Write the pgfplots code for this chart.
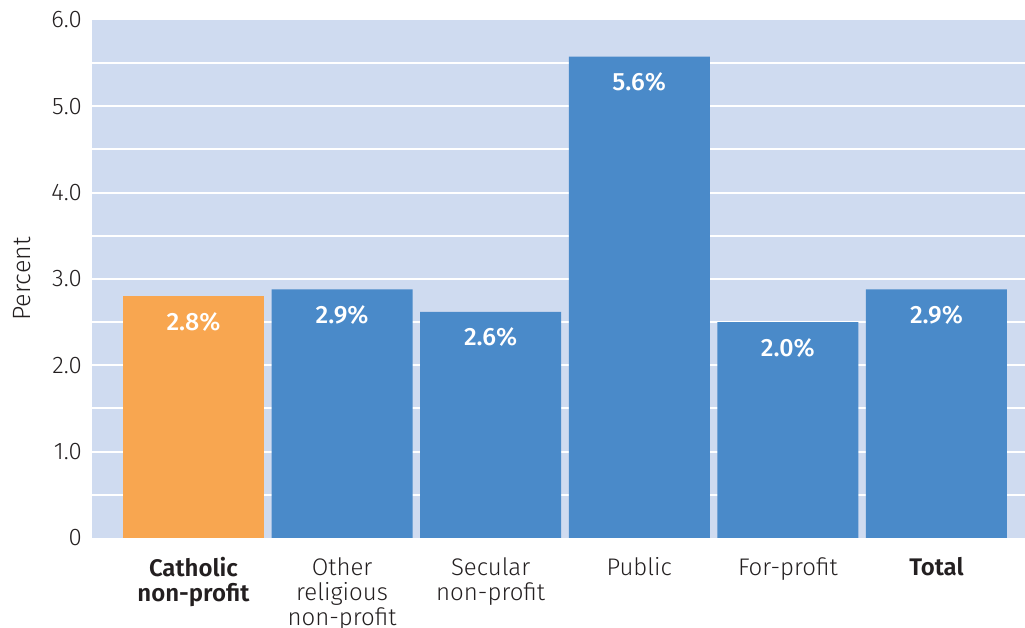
\documentclass[border=0pt]{standalone}
\usepackage{pgfplots}
\pgfplotsset{compat=1.18}
\usepackage{fontspec}
\setmainfont{Fira Sans}
\IfFontExistsTF{Fira Sans Light}{\newfontfamily\lightf{Fira Sans Light}}{\newfontfamily\lightf{Fira Sans}}
\IfFontExistsTF{Fira Sans Medium}{\newfontfamily\medf{Fira Sans Medium}}{\newfontfamily\medf{Fira Sans}}
\definecolor{bgblue}{RGB}{207,219,240}
\definecolor{barblue}{RGB}{74,138,201}
\definecolor{barorange}{RGB}{248,166,80}
\definecolor{textc}{RGB}{35,31,32}
\begin{document}
\begin{tikzpicture}
\begin{axis}[at={(0,0)}, anchor=south west, scale only axis,
 width=933pt, height=518pt,
 ybar, bar width=0.949, bar shift=0pt,
 xmin=-0.683, xmax=5.596, ymin=0, ymax=6,
 axis line style={draw=none}, major tick length=0pt, minor tick length=0pt,
 axis background/.style={fill=bgblue},
 ytick={0,1,2,3,4,5,6}, yticklabels={0,1.0,2.0,3.0,4.0,5.0,6.0},
 minor ytick={0.5,1,1.5,2,2.5,3,3.5,4,4.5,5,5.5},
 yminorgrids, minor grid style={white, line width=2pt},
 xtick={0,1,2,3,4,5},
 xticklabels={{\textbf{Catholic}\\\textbf{non-profit}},{Other\\religious\\non-profit},{Secular\\non-profit},{Public},{For-profit},{\textbf{Total}}},
 yticklabel style={font=\lightf\fontsize{24}{25}\selectfont, text=textc, anchor=east, xshift=-10pt, inner sep=0pt},
 xticklabel style={font=\lightf\fontsize{24}{25}\selectfont, text=textc, align=center, anchor=north, yshift=-19pt, inner sep=0pt},
 ylabel={Percent},
 ylabel shift=20pt,
 ylabel style={font=\lightf\fontsize{25}{26}\selectfont, text=textc, inner sep=0pt, yshift=0pt},
 nodes near coords, point meta=explicit symbolic,
 every node near coord/.append style={anchor=north, yshift=-16pt, text=white, font=\medf\fontsize{25}{26}\selectfont, inner sep=0pt},
]
\addplot[fill=barorange, draw=none] coordinates {(0,2.80) [2.8\%]};
\addplot[fill=barblue, draw=none] coordinates {(1,2.88) [2.9\%] (2,2.62) [2.6\%] (3,5.575) [5.6\%] (4,2.50) [2.0\%] (5,2.88) [2.9\%]};
\end{axis}
\pgfresetboundingbox
\path (-92pt,-90pt) rectangle (933pt,538pt);
\end{tikzpicture}
\end{document}
